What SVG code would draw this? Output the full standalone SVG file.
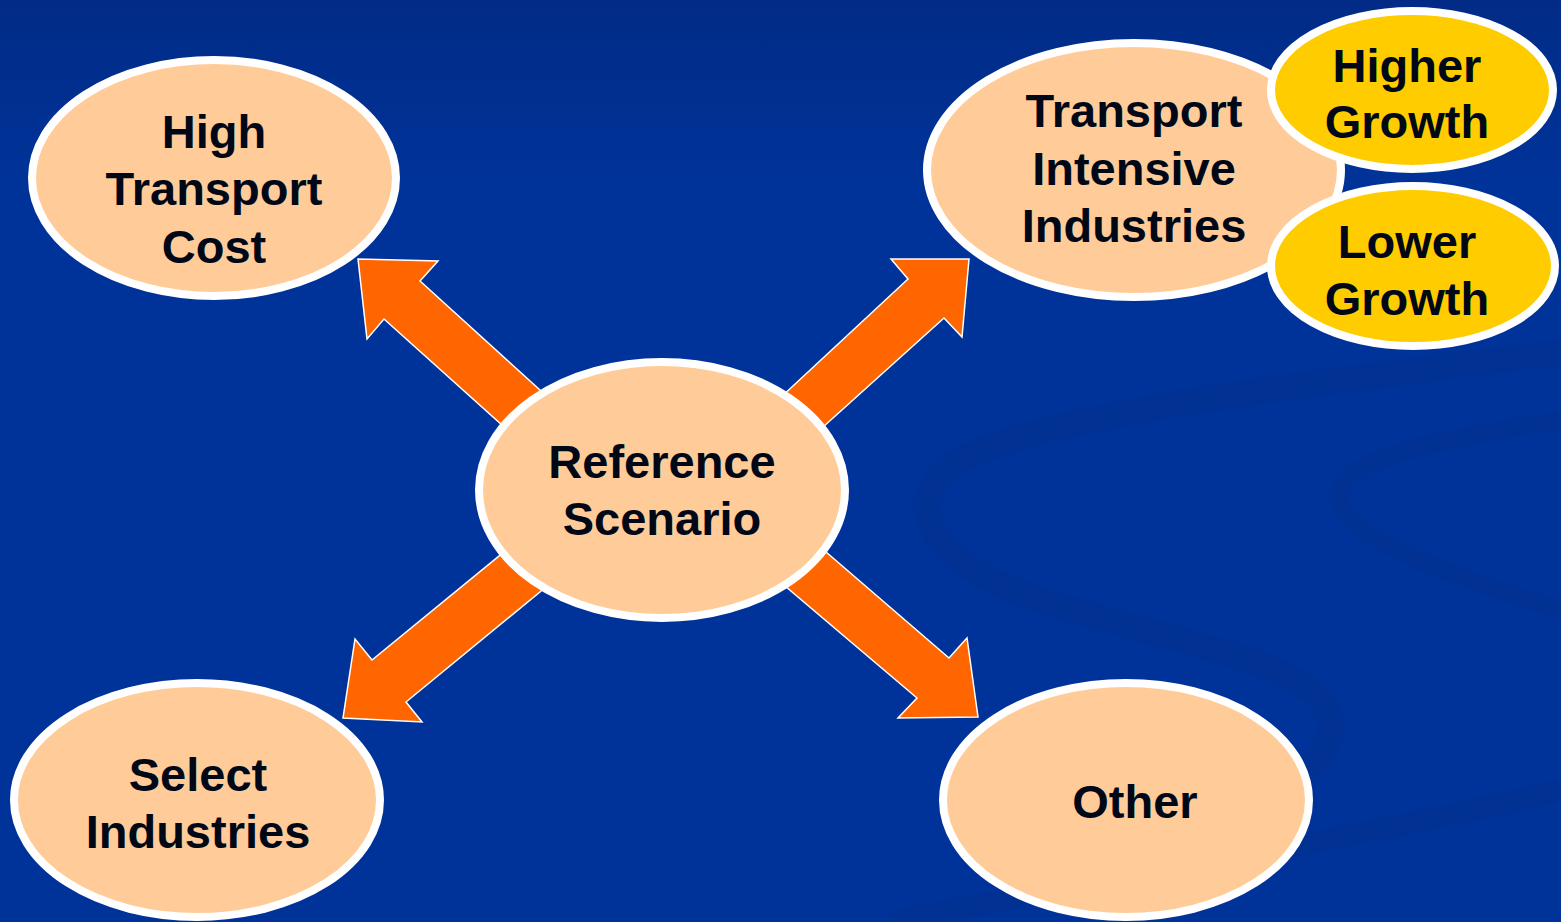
<svg xmlns="http://www.w3.org/2000/svg" width="1561" height="922" viewBox="0 0 1561 922">
  <defs>
    <linearGradient id="bg" x1="0" y1="0" x2="0" y2="1">
      <stop offset="0" stop-color="#012b86"/>
      <stop offset="0.2" stop-color="#003399"/>
      <stop offset="1" stop-color="#003399"/>
    </linearGradient>
    <style>
      .node { stroke: #ffffff; stroke-width: 8; }
      .peach { fill: #FFCC99; }
      .yellow { fill: #FFCC00; }
      .lbl { font-family: "Liberation Sans", Arial, sans-serif; font-weight: bold; font-size: 47px; fill: #000818; text-anchor: middle; }
      .arrow { fill: #FF6600; stroke: #ffffff; stroke-width: 1.5; stroke-linejoin: miter; }
      .swirl { fill: none; stroke: #002f8e; stroke-linecap: round; opacity: 0.55; }
    </style>
  </defs>

  <rect x="0" y="0" width="1561" height="922" fill="url(#bg)"/>

  <!-- background swirl -->
  <g id="background">
    <path class="swirl" stroke-width="26" d="M1561,352 C1350,380 1050,410 960,460 C900,495 920,560 1040,600 C1160,640 1320,660 1330,720 C1335,760 1290,790 1230,800"/>
    <path class="swirl" stroke-width="18" d="M1561,420 C1430,440 1350,460 1340,490 C1330,530 1430,570 1561,610"/>
    <path class="swirl" stroke-width="22" d="M900,920 C1100,880 1350,840 1561,790"/>
  </g>

  <g id="connectors">
    <polygon class="arrow" points="562,410 420,281 438,261 358,259 367,339 384,319 522,443"/>
    <polygon class="arrow" points="765,412 908,279 891,259 969,259 962,337 944,318 803,445"/>
    <polygon class="arrow" points="521,538 372,660 355,639 343,718 422,722 406,702 563,573"/>
    <polygon class="arrow" points="804,533 949,658 967,638 978,717 898,718 917,698 765,569"/>
  </g>

  <g id="node-high-transport-cost">
    <ellipse class="node peach" cx="214" cy="178" rx="182" ry="118"/>
    <text class="lbl" x="214" y="148">High</text>
    <text class="lbl" x="214" y="205">Transport</text>
    <text class="lbl" x="214" y="263">Cost</text>
  </g>

  <g id="node-transport-intensive">
    <ellipse class="node peach" cx="1134" cy="170" rx="207" ry="127"/>
    <text class="lbl" x="1134" y="127">Transport</text>
    <text class="lbl" x="1134" y="185">Intensive</text>
    <text class="lbl" x="1134" y="242">Industries</text>
  </g>

  <g id="node-higher-growth">
    <ellipse class="node yellow" cx="1412" cy="90" rx="141" ry="79"/>
    <text class="lbl" x="1407" y="82">Higher</text>
    <text class="lbl" x="1407" y="138">Growth</text>
  </g>

  <g id="node-lower-growth">
    <ellipse class="node yellow" cx="1413" cy="266" rx="142" ry="80"/>
    <text class="lbl" x="1407" y="258">Lower</text>
    <text class="lbl" x="1407" y="315">Growth</text>
  </g>

  <g id="node-reference-scenario">
    <ellipse class="node peach" cx="662" cy="490" rx="183" ry="128"/>
    <text class="lbl" x="662" y="478">Reference</text>
    <text class="lbl" x="662" y="535">Scenario</text>
  </g>

  <g id="node-select-industries">
    <ellipse class="node peach" cx="197" cy="800" rx="183" ry="117"/>
    <text class="lbl" x="198" y="791">Select</text>
    <text class="lbl" x="198" y="848">Industries</text>
  </g>

  <g id="node-other">
    <ellipse class="node peach" cx="1126" cy="800" rx="183" ry="117"/>
    <text class="lbl" x="1135" y="818">Other</text>
  </g>
</svg>
